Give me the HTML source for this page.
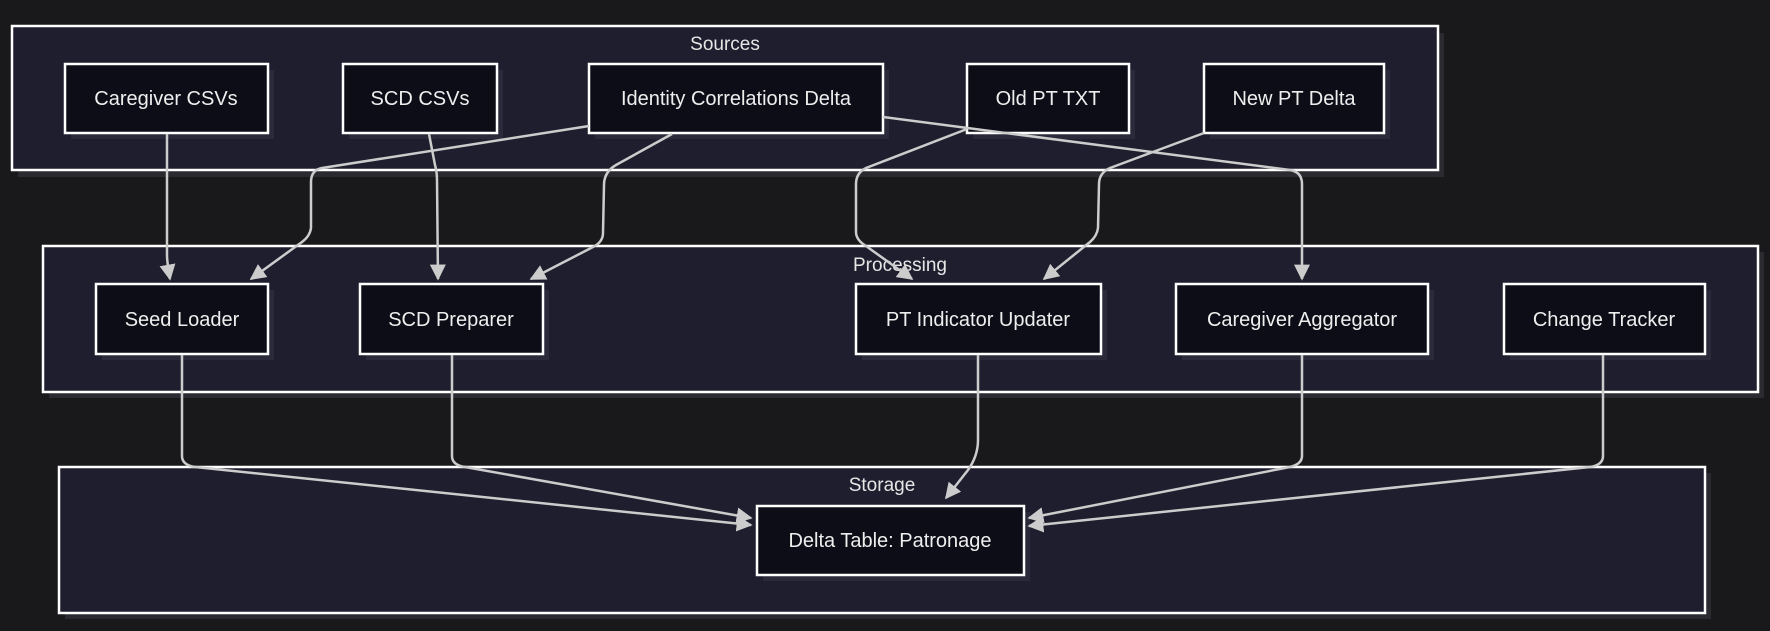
<!DOCTYPE html>
<html><head><meta charset="utf-8"><style>
html,body{margin:0;padding:0;background:#19191b;}
svg{display:block;font-family:"Liberation Sans",Arial,sans-serif;}
</style></head><body>
<svg width="1770" height="631" viewBox="0 0 1770 631" xmlns="http://www.w3.org/2000/svg">
<defs>
<marker id="a" viewBox="0 0 10 10" refX="9" refY="5" markerWidth="16" markerHeight="16" orient="auto-start-reverse" markerUnits="userSpaceOnUse">
<path d="M0,0 L10,5 L0,10 z" fill="#cccccc"/></marker>
</defs>
<rect x="0" y="0" width="1770" height="631" fill="#19191b"/>
<g fill="#2a2a30">
<rect x="18" y="33" width="1426" height="144"/>
<rect x="49" y="252" width="1715" height="146"/>
<rect x="65" y="473" width="1646" height="146"/>
</g>
<g fill="#1e1e2e" stroke="#ffffff" stroke-width="2.5">
<rect x="12" y="26" width="1426" height="144"/>
<rect x="43" y="246" width="1715" height="146"/>
<rect x="59" y="467" width="1646" height="146"/>
</g>
<g fill="#e6e6e6" font-size="19" text-anchor="middle">
<text x="725" y="50">Sources</text>
<text x="900" y="271">Processing</text>
<text x="882" y="491">Storage</text>
</g>
<g fill="#2a2a3a">
<rect x="71" y="70" width="203" height="69"/>
<rect x="349" y="70" width="154" height="69"/>
<rect x="595" y="70" width="294" height="69"/>
<rect x="973" y="70" width="162" height="69"/>
<rect x="1210" y="70" width="180" height="69"/>
<rect x="102" y="290" width="172" height="70"/>
<rect x="366" y="290" width="183" height="70"/>
<rect x="862" y="290" width="245" height="70"/>
<rect x="1182" y="290" width="252" height="70"/>
<rect x="1510" y="290" width="201" height="70"/>
<rect x="763" y="512" width="267" height="69"/>
</g>
<g fill="#0d0d17" stroke="#ffffff" stroke-width="2.5">
<rect x="65" y="64" width="203" height="69"/>
<rect x="343" y="64" width="154" height="69"/>
<rect x="589" y="64" width="294" height="69"/>
<rect x="967" y="64" width="162" height="69"/>
<rect x="1204" y="64" width="180" height="69"/>
<rect x="96" y="284" width="172" height="70"/>
<rect x="360" y="284" width="183" height="70"/>
<rect x="856" y="284" width="245" height="70"/>
<rect x="1176" y="284" width="252" height="70"/>
<rect x="1504" y="284" width="201" height="70"/>
<rect x="757" y="506" width="267" height="69"/>
</g>
<g fill="#eeeeee" font-size="20" text-anchor="middle">
<text x="166" y="105">Caregiver CSVs</text>
<text x="420" y="105">SCD CSVs</text>
<text x="736" y="105">Identity Correlations Delta</text>
<text x="1048" y="105">Old PT TXT</text>
<text x="1294" y="105">New PT Delta</text>
<text x="182" y="326">Seed Loader</text>
<text x="451" y="326">SCD Preparer</text>
<text x="978" y="326">PT Indicator Updater</text>
<text x="1302" y="326">Caregiver Aggregator</text>
<text x="1604" y="326">Change Tracker</text>
<text x="890" y="547">Delta Table: Patronage</text>
</g>
<g fill="none" stroke="#cccccc" stroke-width="2.5" marker-end="url(#a)">
<path d="M167,134 L167,255 Q167,262 170,279"/>
<path d="M429,134 L435,165 Q437,172 437,180 L438,279"/>
<path d="M589,126 L322,168 Q311,170 311,182 L311,228 Q310,236 302,242 L251,279"/>
<path d="M672,134 L616,165 Q604,172 604,185 L603,233 Q603,242 593,247 L531,279"/>
<path d="M883,117 L1290,170 Q1302,172 1302,184 L1302,279"/>
<path d="M967,129 L866,168 Q856,173 856,184 L856,232 Q856,240 866,246 L912,279"/>
<path d="M1204,133 L1110,168 Q1099,173 1099,184 L1098,228 Q1097,236 1090,242 L1044,279"/>
<path d="M182,355 L182,456 Q182,465 195,467 L751,525"/>
<path d="M452,355 L452,456 Q452,465 465,467 L751,518"/>
<path d="M978,355 L978,440 Q978,456 968,470 L946,498"/>
<path d="M1302,355 L1302,456 Q1302,464 1290,467 L1029,518"/>
<path d="M1603,355 L1603,456 Q1603,465 1590,467 L1029,526"/>
</g>
</svg>
</body></html>
